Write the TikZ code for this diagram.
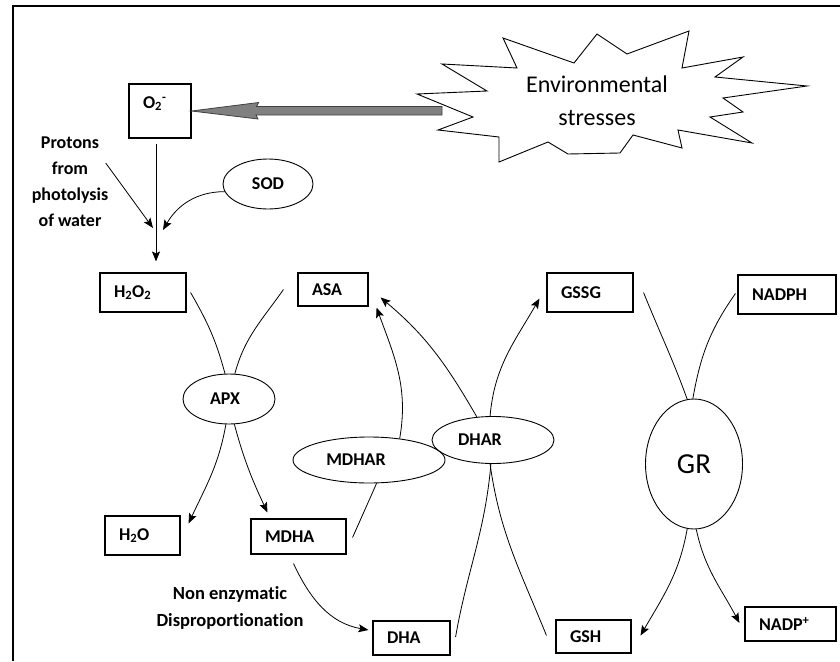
\documentclass[tikz,border=0pt]{standalone}
\usepackage{fontspec}
\setmainfont{Carlito}[Ligatures=NoCommon]
\usetikzlibrary{arrows.meta,shapes.geometric}

\begin{document}
\begin{tikzpicture}[x=1pt,y=-1pt,
    >={Stealth[length=10pt,width=8pt,inset=2pt]},
    flow/.style={->,line width=0.8pt},
    link/.style={line width=0.8pt},
    species/.style={draw,line width=1.1pt,inner xsep=14pt,inner ysep=0pt,align=left,
      font=\bfseries\fontsize{18}{22}\selectfont},
    enzyme/.style={draw,ellipse,line width=0.9pt,inner sep=0pt,
      font=\bfseries\fontsize{18}{22}\selectfont},
    note/.style={align=center,font=\bfseries\fontsize{18}{26}\selectfont}]
  \useasboundingbox (0,0) rectangle (840,661);
  \draw[line width=1.2pt] (13,661) -- (13,6) -- (840,6);

  % stress burst
  \draw[line width=0.9pt] (503,38) -- (574,63) -- (597,34) -- (627,54) -- (689,31)
    -- (682,68) -- (743,57) -- (715,77) -- (807,86) -- (723,98) -- (743,112)
    -- (710,117) -- (752,143) -- (678,130) -- (682,148) -- (633,135) -- (620,153)
    -- (568,154) -- (548,142) -- (499,162) -- (499,137) -- (438,130) -- (473,117)
    -- (417,94) -- (487,91) -- (442,64) -- (517,68) -- cycle;
  \node[align=center,font=\fontsize{24}{33}\selectfont] (stress) at (597,101) {Environmental\\stresses};
  \coordinate (push) at (442,110.75);

  % species
  \node[species,text width=34pt,text height=24pt,text depth=30pt] (o2) at (160,111) {O\textsubscript{2}\textsuperscript{-}};
  \node[species,text width=58pt,minimum height=39pt] (h2o2) at (143,292.5) {H\textsubscript{2}O\textsubscript{2}};
  \node[species,text width=42pt,minimum height=33pt] (asa) at (333,289.5) {ASA};
  \node[species,text width=47pt,minimum height=39pt] (h2o) at (142.5,535.5) {H\textsubscript{2}O};
  \node[species,text width=67pt,minimum height=35pt] (mdha) at (298.5,536.5) {MDHA};
  \node[species,text width=49pt,minimum height=34pt] (dha) at (411.5,638) {DHA};
  \node[species,text width=58pt,minimum height=39pt] (gssg) at (590,292.5) {GSSG};
  \node[species,text width=70pt,minimum height=39pt] (nadph) at (787,294.5) {NADPH};
  \node[species,text width=47pt,minimum height=33pt] (gsh) at (593.5,636.5) {GSH};
  \node[species,text width=63pt,minimum height=34pt] (nadp) at (790.5,624) {NADP\textsuperscript{+}};

  % enzymes
  \node[enzyme,minimum width=90pt,minimum height=50pt] (sod) at (268,184) {SOD};
  \node[enzyme,minimum width=92pt,minimum height=50pt] (apx) at (229,399) {APX\kern8pt};
  \node[enzyme,minimum width=152pt,minimum height=46pt] (mdhar) at (369,460) {MDHAR\kern26pt};
  \node[enzyme,minimum width=122pt,minimum height=47pt] (dhar) at (493,440) {DHAR\kern26pt};
  \node[enzyme,minimum width=97pt,minimum height=130pt,font=\fontsize{29}{32}\selectfont] (gr) at (694,464) {GR};

  \node[note] (protons) at (70,182) {Protons\\from\\photolysis\\of water};
  \node[note,font=\bfseries\fontsize{18.5}{27}\selectfont] (nonenz) at (230,608) {Non enzymatic\\Disproportionation};

  % big arrow
  \draw[fill=black!50,draw=black!75,line width=0.8pt] (o2.east) -- ++(67,-8.5) -- ++(-2,4)
    -- ([shift={(0,-4.25)}]push) -- ([shift={(0,4.25)}]push) -- ++(-186,0) -- ++(2,4) -- cycle;

  % superoxide to peroxide
  \coordinate (meet) at (156,234);
  \draw[flow,shorten <=5pt,shorten >=11pt] (o2.south -| meet) -- (h2o2.north -| meet);
  \draw[flow] ([shift={(-6,-19)}]protons.east) -- ([shift={(-3,-6)}]meet);
  \draw[flow] (sod.190) to[out=180,in=60] ([shift={(7,-4)}]meet);

  % APX
  \draw[link] ([shift={(4,0)}]h2o2.east) to[out=-60,in=105] (apx.99);
  \draw[link] ([shift={(-14,0)}]asa.west) to[out=-125,in=75] (apx.77);
  \draw[flow] (apx.263) to[out=-100,in=65] ([shift={(8,8)}]h2o.north east);
  \draw[flow] (apx.-78) to[out=-75,in=115] ([shift={(17,-6)}]mdha.north west);

  % MDHAR and DHAR
  \draw[link] ([shift={(6,1)}]mdha.east) -- (mdhar.-72);
  \draw[flow] (mdhar.35) to[out=80,in=-70] ([shift={(8,1)}]asa.south east);
  \draw[flow] ([shift={(-5,9)}]mdha.south) to[out=-65,in=170] ([shift={(-4,-8)}]dha.west);
  \draw[flow] (dhar.125) to[out=120,in=-40] ([shift={(12,8)}]asa.east);
  \draw[flow] (dhar.97) to[out=85,in=-120] ([shift={(-7,-14)}]gssg.south west);
  \draw[link] (dhar.-97) to[out=-82,in=112] ([shift={(-9,-1)}]gsh.west);
  \draw[link] ([shift={(5,-1)}]dha.east) to[out=80,in=-95] (dhar.-95);

  % GR
  \draw[link] ([shift={(10,0)}]gssg.east) to[out=-68,in=110] (gr.96);
  \draw[link] ([shift={(-2,-1)}]nadph.west) to[out=-125,in=80] (gr.91);
  \draw[flow] (gr.-96) to[out=-100,in=60] ([shift={(9,-1)}]gsh.east);
  \draw[flow] (gr.-88) to[out=-78,in=118] ([shift={(-5,-1)}]nadp.west);
\end{tikzpicture}
\end{document}
